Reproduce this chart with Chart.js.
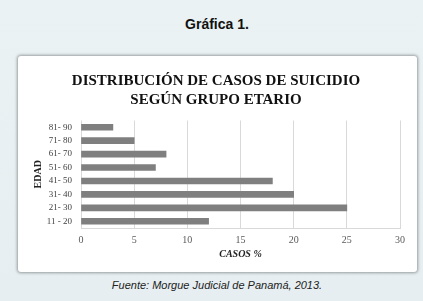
<!DOCTYPE html>
<html>
<head>
<meta charset="utf-8">
<script src="https://cdn.jsdelivr.net/npm/chart.js@4"></script>
<style>
  html, body { margin: 0; padding: 0; }
  body {
    width: 423px; height: 301px; overflow: hidden; position: relative;
    background: linear-gradient(180deg, #eaf2f4 0%, #e6eef1 100%);
    font-family: "Liberation Sans", Arial, sans-serif;
  }
  #heading {
    position: absolute; left: 11px; width: 412px; top: 16px;
    text-align: center; font-weight: bold; font-size: 14px; color: #111;
  }
  #panel {
    position: absolute; left: 18px; top: 56px; width: 399px; height: 216px;
    background: #fff; border-radius: 3px;
    box-shadow: 0 0 3px 1px rgba(0,0,0,0.35);
  }
  #footer {
    position: absolute; left: 11px; width: 412px; top: 279px;
    text-align: center; font-style: italic; font-size: 11px; color: #222;
  }
</style>
</head>
<body>
<div id="heading">Gráfica 1.</div>
<div id="panel"><canvas id="edadChart" width="399" height="216"></canvas></div>
<div id="footer">Fuente: Morgue Judicial de Panamá, 2013.</div>
<script>
  const ageGroups = ["81- 90", "71- 80", "61- 70", "51- 60", "41- 50", "31- 40", "21- 30", "11 - 20"];
  const casesPct = [3, 5, 8, 7, 18, 20, 25, 12];
  const xTicks = [0, 5, 10, 15, 20, 25, 30];

  const serif = "'Liberation Serif', 'DejaVu Serif', serif";

  const ctx = document.getElementById("edadChart").getContext("2d");
  new Chart(ctx, {
    type: "bar",
    data: {
      labels: ageGroups,
      datasets: [
        {
          label: "Casos %",
          data: casesPct,
          backgroundColor: "#7f7f7f",
          borderWidth: 0,
          barThickness: 6,
        },
      ],
    },
    options: {
      indexAxis: "y",
      responsive: false,
      animation: false,
      layout: { padding: { left: 14, right: 17, top: 4, bottom: 12 } },
      scales: {
        x: {
          min: 0,
          max: 30,
          afterBuildTicks: (axis) => {
            axis.ticks = xTicks.map((v) => ({ value: v }));
          },
          afterFit: (axis) => {
            axis.height = 32;
          },
          grid: { color: "#d9d9d9", drawTicks: false },
          border: { color: "#d9d9d9" },
          ticks: { color: "#595959", font: { family: serif, size: 10 }, padding: 6 },
          title: {
            display: true,
            text: "CASOS %",
            color: "#222",
            font: { family: serif, size: 10, weight: "bold", style: "italic" },
            padding: { top: 0, bottom: 0 },
          },
        },
        y: {
          afterFit: (axis) => {
            axis.width = 49;
          },
          grid: { display: false, drawTicks: false },
          border: { display: false },
          ticks: { color: "#404040", font: { family: serif, size: 9 }, padding: 9, autoSkip: false },
          title: {
            display: true,
            text: "EDAD",
            color: "#222",
            font: { family: serif, size: 10, weight: "bold" },
            padding: { top: 0, bottom: 0 },
          },
        },
      },
      plugins: {
        legend: { display: false },
        tooltip: { enabled: false },
        title: {
          display: true,
          text: ["DISTRIBUCIÓN DE CASOS DE SUICIDIO", "SEGÚN GRUPO ETARIO"],
          color: "#111",
          font: { family: serif, size: 15, weight: "bold", lineHeight: 1.25 },
          padding: { top: 12, bottom: 11 },
        },
      },
    },
  });
</script>
</body>
</html>
